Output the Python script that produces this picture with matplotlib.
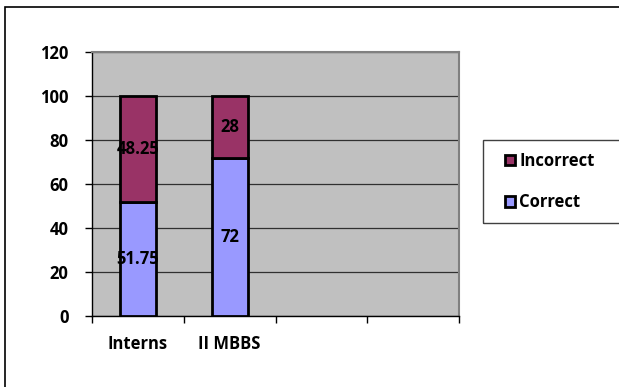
import numpy as np
import matplotlib.pyplot as plt
from matplotlib.patches import Rectangle

# --- data ---
categories = ["Interns", "II MBBS", "", ""]
correct = [51.75, 72, 0, 0]
incorrect = [48.25, 28, 0, 0]
n_bars = 2  # only the first two categories carry data

plt.rcParams['font.family'] = ['Open Sans', 'DejaVu Sans']
plt.rcParams['font.weight'] = 'bold'
fs = 12

fig = plt.figure(figsize=(6.19, 3.87), dpi=100)
W, H = 619, 387

# outer chart frame
fig.patches.append(Rectangle((5 / W, -0.05), 1.2, (387 - 7) / H + 0.05,
                             transform=fig.transFigure, fill=False,
                             edgecolor='black', linewidth=1.2))
# legend frame
fig.patches.append(Rectangle((483 / W, 1 - 223 / H), 1.0, (223 - 140) / H,
                             transform=fig.transFigure, fill=False,
                             edgecolor='#404040', linewidth=1))

ax = fig.add_axes([92 / W, 1 - 316 / H, (459 - 92) / W, (316 - 52) / H])
ax.set_facecolor('#C0C0C0')

x = np.arange(n_bars)
bw = 0.39
c_bars = ax.bar(x, correct[:n_bars], width=bw, color='#9999FF',
                edgecolor='black', linewidth=2, label='Correct', zorder=3)
i_bars = ax.bar(x, incorrect[:n_bars], width=bw, bottom=correct[:n_bars],
                color='#993366', edgecolor='black', linewidth=2,
                label='Incorrect', zorder=3)

for bars, vals in [(c_bars, correct), (i_bars, incorrect)]:
    for b, v in zip(bars, vals[:n_bars]):
        ax.text(b.get_x() + b.get_width() / 2, b.get_y() + v / 2, f"{v:g}",
                ha='center', va='center', fontsize=fs, fontweight='bold', zorder=4)

ax.set_xlim(-0.5, len(categories) - 0.5)
ax.set_ylim(0, 120)
ax.set_yticks(np.arange(0, 121, 20))
ax.yaxis.grid(True, color='#303030', linewidth=0.9, zorder=1)
ax.set_axisbelow(True)

# category boundary ticks, labels centred under categories
ax.set_xticks(np.arange(len(categories) + 1) - 0.5)
ax.set_xticklabels([])
ax.set_xticks(np.arange(len(categories)), minor=True)
ax.set_xticklabels(categories, minor=True)
ax.tick_params(axis='x', which='minor', length=0, pad=14, labelsize=fs)
ax.tick_params(axis='x', which='major', length=5, direction='out', width=1)
ax.tick_params(axis='y', length=5, direction='out', width=1, labelsize=fs, pad=12)

for side in ['left', 'bottom']:
    ax.spines[side].set_color('black')
    ax.spines[side].set_linewidth(1)
for side in ['top', 'right']:
    ax.spines[side].set_color('#808080')
    ax.spines[side].set_linewidth(1.5)

handles = [i_bars, c_bars]
leg = fig.legend(handles, ['Incorrect', 'Correct'],
                 loc='center left', bbox_to_anchor=(505 / W, 1 - 181.5 / H),
                 frameon=False, fontsize=fs, handlelength=0.6, handleheight=0.6,
                 handletextpad=0.25, labelspacing=1.4, borderpad=0,
                 borderaxespad=0)

fig.savefig('out.png', dpi=100)
